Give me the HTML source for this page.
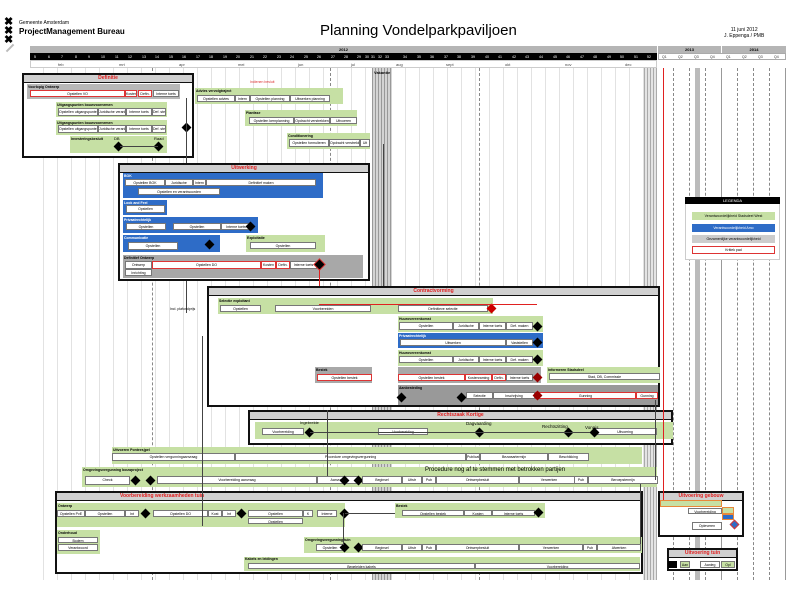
<!DOCTYPE html><html><head><meta charset="utf-8"><style>
*{margin:0;padding:0;box-sizing:border-box}
body{width:800px;height:600px;background:#fff;position:relative;overflow:hidden;font-family:"Liberation Sans",sans-serif;color:#000}
div{position:absolute}
.t{background:#fff;border:1px solid #777;font-size:3.5px;text-align:center;line-height:6px;overflow:hidden;white-space:nowrap}
.r{border:1px solid #d33}
.g{background:#c6e0a4}
.bl{background:#2e6cc7}
.gr{background:#a8a8a8}
.h{font-size:3.5px;font-weight:bold;white-space:nowrap}
.box{border:2px solid #111;background:#fff}
.bh{background:#d0d0d0;border-bottom:1px solid #111;font-size:5px;color:#e02020;text-align:center;font-weight:bold;line-height:7px;left:0;right:0;top:0;height:8px}
.d{width:7px;height:7px;background:#000;transform:rotate(45deg)}
.wk{font-size:3.5px;color:#fff;top:55px}
.mo{font-size:4px;color:#444;top:62px}
.vl{border-left:1px dashed #888;width:0}
.ln{background:#444}
</style></head><body>
<!-- logo -->
<div style="left:4px;top:18px;font-size:11px;line-height:9px;font-weight:bold">✖<br>✖<br>✖</div>
<div style="left:5px;top:47px;width:10px;height:2px;background:#bbb;transform:rotate(-45deg)"></div>
<div style="left:19px;top:20px;font-size:5px">Gemeente Amsterdam</div>
<div style="left:19px;top:27px;font-size:8px;font-weight:bold">ProjectManagement Bureau</div>
<div style="left:320px;top:22px;font-size:15px">Planning Vondelparkpaviljoen</div>
<div style="left:724px;top:27px;font-size:5px;text-align:center">11 juni 2012<br>J. Eppenga / PMB</div>
<!-- header bars -->
<div style="left:30px;top:46px;width:627px;height:7px;background:#b5b5b5;font-size:4px;text-align:center;font-weight:bold;line-height:7px">2012</div>
<div style="left:658px;top:46px;width:63px;height:7px;background:#b5b5b5;font-size:4px;text-align:center;font-weight:bold;line-height:7px">2013</div>
<div style="left:722px;top:46px;width:64px;height:7px;background:#b5b5b5;font-size:4px;text-align:center;font-weight:bold;line-height:7px">2014</div>
<div style="left:30px;top:53px;width:627px;height:7px;background:#000"></div>
<div style="left:658px;top:53px;width:128px;height:7px;background:#fff;border:1px solid #aaa"></div>
<div style="left:30px;top:60px;width:627px;height:8px;border:1px solid #ccc"></div>
<div class="wk" style="left:34px">5</div><div class="wk" style="left:48px">6</div><div class="wk" style="left:61px">7</div><div class="wk" style="left:75px">8</div><div class="wk" style="left:88px">9</div><div class="wk" style="left:101px">10</div><div class="wk" style="left:115px">11</div><div class="wk" style="left:128px">12</div><div class="wk" style="left:142px">13</div><div class="wk" style="left:155px">14</div><div class="wk" style="left:169px">15</div><div class="wk" style="left:182px">16</div><div class="wk" style="left:196px">17</div><div class="wk" style="left:209px">18</div><div class="wk" style="left:223px">19</div><div class="wk" style="left:236px">20</div><div class="wk" style="left:250px">21</div><div class="wk" style="left:263px">22</div><div class="wk" style="left:277px">23</div><div class="wk" style="left:290px">24</div><div class="wk" style="left:304px">25</div><div class="wk" style="left:317px">26</div><div class="wk" style="left:331px">27</div><div class="wk" style="left:344px">28</div><div class="wk" style="left:357px">29</div><div class="wk" style="left:365px">30</div><div class="wk" style="left:371px">31</div><div class="wk" style="left:378px">32</div><div class="wk" style="left:385px">33</div><div class="wk" style="left:403px">34</div><div class="wk" style="left:417px">35</div><div class="wk" style="left:430px">36</div><div class="wk" style="left:444px">37</div><div class="wk" style="left:457px">38</div><div class="wk" style="left:471px">39</div><div class="wk" style="left:485px">40</div><div class="wk" style="left:498px">41</div><div class="wk" style="left:512px">42</div><div class="wk" style="left:525px">43</div><div class="wk" style="left:539px">44</div><div class="wk" style="left:553px">45</div><div class="wk" style="left:566px">46</div><div class="wk" style="left:580px">47</div><div class="wk" style="left:593px">48</div><div class="wk" style="left:607px">49</div><div class="wk" style="left:620px">50</div><div class="wk" style="left:634px">51</div><div class="wk" style="left:647px">52</div>
<div class="wk" style="left:662px;color:#333">Q1</div><div class="wk" style="left:678px;color:#333">Q2</div><div class="wk" style="left:694px;color:#333">Q3</div><div class="wk" style="left:710px;color:#333">Q4</div><div class="wk" style="left:726px;color:#333">Q1</div><div class="wk" style="left:742px;color:#333">Q2</div><div class="wk" style="left:758px;color:#333">Q3</div><div class="wk" style="left:774px;color:#333">Q4</div>
<div class="mo" style="left:58px">feb</div><div class="mo" style="left:119px">mrt</div><div class="mo" style="left:179px">apr</div><div class="mo" style="left:238px">mei</div><div class="mo" style="left:298px">jun</div><div class="mo" style="left:351px">jul</div><div class="mo" style="left:396px">aug</div><div class="mo" style="left:446px">sept</div><div class="mo" style="left:505px">okt</div><div class="mo" style="left:565px">nov</div><div class="mo" style="left:625px">dec</div>
<!-- grid -->
<div style="left:30px;top:68px;width:342px;height:512px;background:repeating-linear-gradient(90deg,transparent 0 13px,#e2e2e2 13px 14px)"></div>
<div style="left:392px;top:68px;width:265px;height:512px;background:repeating-linear-gradient(90deg,transparent 0 13px,#e2e2e2 13px 14px)"></div>
<div style="left:372px;top:68px;width:20px;height:512px;background:repeating-linear-gradient(90deg,#999 0 1px,#d4d4d4 1px 3px)"></div>
<div style="left:374px;top:70px;font-size:4px;font-weight:bold">Vakantie</div>
<div style="left:644px;top:68px;width:13px;height:512px;background:repeating-linear-gradient(90deg,#aaa 0 1px,#e4e4e4 1px 3px)"></div>
<div style="left:695px;top:68px;width:5px;height:512px;background:#bbb"></div>
<div class="vl" style="left:152px;top:68px;height:512px"></div><div class="vl" style="left:330px;top:68px;height:512px"></div><div class="vl" style="left:479px;top:68px;height:512px"></div>
<div class="vl" style="left:673px;top:68px;height:512px"></div><div class="vl" style="left:689px;top:68px;height:512px"></div><div class="vl" style="left:705px;top:68px;height:512px"></div><div class="vl" style="left:721px;top:68px;height:512px;border-left:1px solid #999"></div><div class="vl" style="left:737px;top:68px;height:512px"></div><div class="vl" style="left:753px;top:68px;height:512px"></div><div class="vl" style="left:769px;top:68px;height:512px"></div><div class="vl" style="left:785px;top:68px;height:512px;border-left:1px solid #999"></div>

<!-- Definitie -->
<div class="box" style="left:22px;top:73px;width:172px;height:85px"><div class="bh">Definitie</div></div>
<div class="gr" style="left:27px;top:84px;width:153px;height:15px;background:#b8b8b8"></div>
<div class="h" style="left:28px;top:85px">Voorlopig Ontwerp</div>
<div class="t r" style="left:30px;top:90px;width:95px;height:7px">Opstellen VO</div>
<div class="t r" style="left:125px;top:90px;width:12px;height:7px">Kosten</div><div class="t r" style="left:138px;top:90px;width:14px;height:7px">Defin.</div><div class="t" style="left:153px;top:90px;width:26px;height:7px">Interne toets</div>
<div class="g" style="left:56px;top:102px;width:111px;height:15px"></div><div class="h" style="left:57px;top:103px">Uitgangspunten bouwvoornemen</div>
<div class="t" style="left:58px;top:108px;width:40px;height:8px">Opstellen uitgangspunten</div><div class="t" style="left:98px;top:108px;width:28px;height:8px">Juridische verankering</div><div class="t" style="left:126px;top:108px;width:26px;height:8px">Interne toets</div><div class="t" style="left:152px;top:108px;width:14px;height:8px">Def. stellen</div>
<div class="g" style="left:56px;top:120px;width:111px;height:15px"></div><div class="h" style="left:57px;top:121px">Uitgangspunten bouwvoornemen</div>
<div class="t" style="left:58px;top:125px;width:40px;height:8px">Opstellen uitgangspunten</div><div class="t" style="left:98px;top:125px;width:28px;height:8px">Juridische verankering</div><div class="t" style="left:126px;top:125px;width:26px;height:8px">Interne toets</div><div class="t" style="left:152px;top:125px;width:14px;height:8px">Def. stellen</div>
<div class="g" style="left:70px;top:136px;width:97px;height:17px"></div><div class="h" style="left:71px;top:137px">Investeringsbesluit</div>
<div style="left:114px;top:136px;font-size:4px">DB</div><div style="left:154px;top:136px;font-size:4px">Raad</div>
<div class="d" style="left:115px;top:143px"></div><div class="d" style="left:155px;top:143px"></div>
<div class="ln" style="left:120px;top:146px;width:38px;height:1px"></div>
<div class="d" style="left:183px;top:124px"></div>
<div class="ln" style="left:186px;top:98px;width:1px;height:215px"></div>

<!-- Advies / planfase -->
<div class="g" style="left:195px;top:88px;width:148px;height:16px"></div><div class="h" style="left:196px;top:89px">Advies vervolgtraject</div>
<div style="left:250px;top:80px;font-size:3.5px;color:#d33">Indienen besluit</div>
<div class="t" style="left:197px;top:95px;width:38px;height:7px">Opstellen advies</div><div class="t" style="left:235px;top:95px;width:15px;height:7px">Intern</div><div class="t" style="left:250px;top:95px;width:40px;height:7px">Opstellen planning</div><div class="t" style="left:290px;top:95px;width:40px;height:7px">Uitwerken planning</div>
<div class="g" style="left:245px;top:110px;width:112px;height:16px"></div><div class="h" style="left:246px;top:111px">Planfase</div>
<div class="t" style="left:249px;top:117px;width:45px;height:7px">Opstellen kernplanning</div><div class="t" style="left:294px;top:117px;width:36px;height:7px">Opdracht verstrekken</div><div class="t" style="left:330px;top:117px;width:27px;height:7px">Uitvoeren</div>
<div class="g" style="left:287px;top:133px;width:83px;height:16px"></div><div class="h" style="left:288px;top:134px">Conditionering</div>
<div class="t" style="left:289px;top:139px;width:40px;height:8px">Opstellen formulieren</div><div class="t" style="left:329px;top:139px;width:31px;height:8px">Opdracht verstrekken</div><div class="t" style="left:360px;top:139px;width:10px;height:8px">Uit</div>
<div class="ln" style="left:383px;top:144px;width:1px;height:225px"></div>

<!-- Uitwerking -->
<div class="box" style="left:118px;top:163px;width:252px;height:118px"><div class="bh">Uitwerking</div></div>
<div class="bl" style="left:123px;top:173px;width:200px;height:25px"></div><div class="h" style="left:124px;top:174px;color:#fff">BOK</div>
<div class="t" style="left:125px;top:179px;width:40px;height:7px">Opstellen BOK</div><div class="t" style="left:165px;top:179px;width:28px;height:7px">Juridische</div><div class="t" style="left:193px;top:179px;width:13px;height:7px">Intern</div><div class="t" style="left:206px;top:179px;width:110px;height:7px">Definitief maken</div>
<div class="t" style="left:138px;top:188px;width:82px;height:7px">Opstellen en verantwoorden</div>
<div class="bl" style="left:123px;top:200px;width:44px;height:15px"></div><div class="h" style="left:124px;top:201px;color:#fff">Look and Feel</div>
<div class="t" style="left:126px;top:205px;width:39px;height:8px">Opstellen</div>
<div class="bl" style="left:123px;top:217px;width:135px;height:16px"></div><div class="h" style="left:124px;top:218px;color:#fff">Privaatrechtelijk</div>
<div class="t" style="left:126px;top:223px;width:40px;height:7px">Opstellen</div><div class="t" style="left:173px;top:223px;width:48px;height:7px">Opstellen</div><div class="t" style="left:221px;top:223px;width:30px;height:7px">Interne toets</div><div class="d" style="left:247px;top:223px"></div>
<div class="bl" style="left:123px;top:235px;width:97px;height:17px"></div><div class="h" style="left:124px;top:236px;color:#fff">Communicatie</div>
<div class="t" style="left:128px;top:242px;width:50px;height:8px">Opstellen</div><div class="d" style="left:206px;top:241px"></div>
<div class="g" style="left:246px;top:235px;width:79px;height:17px"></div><div class="h" style="left:247px;top:236px">Exploitatie</div>
<div class="t" style="left:250px;top:242px;width:66px;height:7px">Opstellen</div>
<div class="gr" style="left:123px;top:255px;width:240px;height:23px"></div><div class="h" style="left:124px;top:256px">Definitief Ontwerp</div>
<div class="t" style="left:125px;top:261px;width:27px;height:8px">Ontwerp</div><div class="t" style="left:125px;top:269px;width:27px;height:7px">Inrichting</div>
<div class="t r" style="left:152px;top:261px;width:109px;height:8px">Opstellen DO</div><div class="t r" style="left:261px;top:261px;width:15px;height:8px">Kosten</div><div class="t r" style="left:276px;top:261px;width:14px;height:8px">Defin.</div><div class="t" style="left:290px;top:261px;width:27px;height:8px">Interne toets</div>
<div class="d" style="left:316px;top:261px;box-shadow:0 0 0 1px #d33"></div>
<div style="left:319px;top:269px;width:1px;height:110px;background:#e02020"></div>

<!-- Contractvorming -->
<div class="box" style="left:207px;top:286px;width:453px;height:121px"><div class="bh">Contractvorming</div></div>
<div class="g" style="left:218px;top:298px;width:275px;height:16px"></div><div class="h" style="left:219px;top:299px">Selectie exploitant</div>
<div class="t" style="left:220px;top:305px;width:41px;height:7px">Opstellen</div><div class="t" style="left:275px;top:305px;width:96px;height:7px">Voorbereiden</div><div class="t" style="left:398px;top:305px;width:90px;height:7px">Definitieve selectie</div>
<div class="d" style="left:488px;top:305px;background:#c00"></div>
<div style="left:170px;top:307px;font-size:3.5px">Incl. plafondprijs</div>
<div class="g" style="left:398px;top:316px;width:145px;height:16px"></div><div class="h" style="left:399px;top:317px">Huurovereenkomst</div>
<div class="t" style="left:399px;top:322px;width:54px;height:8px">Opstellen</div><div class="t" style="left:453px;top:322px;width:26px;height:8px">Juridische</div><div class="t" style="left:479px;top:322px;width:27px;height:8px">Interne toets</div><div class="t" style="left:506px;top:322px;width:27px;height:8px">Def. maken</div><div class="d" style="left:534px;top:323px"></div>
<div class="bl" style="left:398px;top:333px;width:145px;height:15px"></div><div class="h" style="left:399px;top:334px;color:#fff">Privaatrechtelijk</div>
<div class="t" style="left:400px;top:339px;width:106px;height:7px">Uitwerken</div><div class="t" style="left:506px;top:339px;width:27px;height:7px">Vaststellen</div><div class="d" style="left:534px;top:339px"></div>
<div class="g" style="left:398px;top:350px;width:145px;height:16px"></div><div class="h" style="left:399px;top:351px">Huurovereenkomst</div>
<div class="t" style="left:399px;top:356px;width:54px;height:7px">Opstellen</div><div class="t" style="left:453px;top:356px;width:26px;height:7px">Juridische</div><div class="t" style="left:479px;top:356px;width:27px;height:7px">Interne toets</div><div class="t" style="left:506px;top:356px;width:27px;height:7px">Def. maken</div><div class="d" style="left:534px;top:356px"></div>
<div class="gr" style="left:315px;top:367px;width:57px;height:16px"></div><div class="h" style="left:316px;top:368px">Bestek</div>
<div class="t r" style="left:317px;top:374px;width:55px;height:7px">Opstellen bestek</div>
<div class="gr" style="left:398px;top:367px;width:143px;height:16px"></div>
<div class="t r" style="left:398px;top:374px;width:67px;height:7px">Opstellen bestek</div><div class="t r" style="left:465px;top:374px;width:27px;height:7px">Kostenraming</div><div class="t r" style="left:492px;top:374px;width:14px;height:7px">Defin.</div><div class="t" style="left:506px;top:374px;width:27px;height:7px">Interne toets</div><div class="d" style="left:534px;top:374px;background:#900"></div>
<div class="g" style="left:547px;top:367px;width:113px;height:16px"></div><div class="h" style="left:548px;top:368px">Informeren Stadsdeel</div>
<div class="t" style="left:549px;top:373px;width:111px;height:7px">Stad, DB, Commissie</div>
<div class="gr" style="left:398px;top:385px;width:260px;height:20px;background:#999"></div><div class="h" style="left:399px;top:386px">Aanbesteding</div>
<div class="d" style="left:398px;top:394px"></div><div class="d" style="left:458px;top:394px"></div>
<div class="t" style="left:466px;top:392px;width:27px;height:7px">Selectie</div><div class="t" style="left:493px;top:392px;width:42px;height:7px">Inschrijving</div>
<div class="t r" style="left:535px;top:392px;width:101px;height:7px">Gunning</div><div class="t r" style="left:636px;top:392px;width:22px;height:7px">Gunning</div>
<div class="d" style="left:534px;top:392px;background:#900"></div>
<div style="left:319px;top:304px;width:218px;height:1px;background:#e02020"></div>

<!-- Rechtszaak -->
<div class="box" style="left:248px;top:410px;width:425px;height:35px"><div class="bh">Rechtszaak Kortige</div></div>
<div class="g" style="left:255px;top:422px;width:418px;height:17px"></div>
<div class="t" style="left:262px;top:428px;width:42px;height:7px">Voorbereiding</div><div class="t" style="left:378px;top:428px;width:50px;height:7px">Voorbereiding</div><div class="t" style="left:593px;top:428px;width:64px;height:7px">Uitvoering</div>
<div class="d" style="left:306px;top:429px"></div><div class="d" style="left:476px;top:429px"></div><div class="d" style="left:565px;top:429px"></div><div class="d" style="left:591px;top:429px"></div>
<div style="left:300px;top:420px;font-size:4px">Ingebrekte</div><div style="left:466px;top:421px;font-size:4.5px">Dagvaarding</div><div style="left:542px;top:424px;font-size:4.5px">Rechtszitting</div><div style="left:585px;top:425px;font-size:4.5px">Vonnis</div>
<div class="ln" style="left:310px;top:432px;width:280px;height:1px"></div>

<!-- Uitvoeren / Omgevings -->
<div class="g" style="left:112px;top:447px;width:530px;height:17px"></div><div class="h" style="left:113px;top:448px">Uitvoeren Ponteesjpel</div>
<div class="t" style="left:112px;top:453px;width:123px;height:8px">Opstellen vergunningaanvraag</div><div class="t" style="left:235px;top:453px;width:231px;height:8px">Procedure omgevingsvergunning</div><div class="t" style="left:466px;top:453px;width:14px;height:8px">Publicatie</div><div class="t" style="left:480px;top:453px;width:68px;height:8px">Bezwaartermijn</div><div class="t" style="left:548px;top:453px;width:41px;height:8px">Beschikking</div>
<div class="g" style="left:82px;top:467px;width:575px;height:20px"></div><div class="h" style="left:83px;top:468px">Omgevingsvergunning bouwproject</div>
<div style="left:425px;top:467px;font-size:6px">Procedure nog af te stemmen met betrokken partijen</div>
<div class="t" style="left:85px;top:476px;width:45px;height:9px">Check</div><div class="d" style="left:132px;top:477px"></div><div class="d" style="left:147px;top:477px"></div>
<div class="t" style="left:157px;top:476px;width:160px;height:8px">Voorbereiding aanvraag</div><div class="t" style="left:317px;top:476px;width:42px;height:8px">Aanvraag</div><div class="d" style="left:341px;top:477px"></div><div class="d" style="left:355px;top:477px"></div>
<div class="t" style="left:362px;top:476px;width:40px;height:8px">Beginsel</div><div class="t" style="left:402px;top:476px;width:20px;height:8px">Uitstr</div><div class="t" style="left:422px;top:476px;width:14px;height:8px">Pub</div><div class="t" style="left:436px;top:476px;width:83px;height:8px">Ontwerpbesluit</div><div class="t" style="left:519px;top:476px;width:60px;height:8px">Verwerken</div><div class="t" style="left:574px;top:476px;width:14px;height:8px">Pub</div><div class="t" style="left:588px;top:476px;width:70px;height:8px">Beroepstermijn</div>
<div class="ln" style="left:327px;top:410px;width:1px;height:66px"></div>

<!-- Voorbereiding -->
<div class="box" style="left:55px;top:491px;width:588px;height:83px"><div class="bh" style="text-align:left;padding-left:63px">Voorbereiding werkzaamheden tuin</div></div>
<div class="g" style="left:57px;top:503px;width:288px;height:24px"></div><div class="h" style="left:58px;top:504px">Ontwerp</div>
<div class="t" style="left:57px;top:510px;width:28px;height:7px">Opstellen PvE</div><div class="t" style="left:85px;top:510px;width:40px;height:7px">Opstellen</div><div class="t" style="left:125px;top:510px;width:14px;height:7px">Int</div><div class="d" style="left:142px;top:510px"></div>
<div class="t" style="left:153px;top:510px;width:55px;height:7px">Opstellen DO</div><div class="t" style="left:208px;top:510px;width:14px;height:7px">Kost</div><div class="t" style="left:222px;top:510px;width:14px;height:7px">Int</div><div class="d" style="left:238px;top:510px"></div>
<div class="t" style="left:248px;top:510px;width:55px;height:7px">Opstellen</div><div class="t" style="left:303px;top:510px;width:10px;height:7px">K</div><div class="t" style="left:317px;top:510px;width:20px;height:7px">Interne</div><div class="d" style="left:341px;top:510px"></div>
<div class="t" style="left:248px;top:518px;width:55px;height:6px">Opstellen</div>
<div class="g" style="left:57px;top:530px;width:43px;height:24px"></div><div class="h" style="left:58px;top:531px">Onderhoud</div>
<div class="t" style="left:58px;top:537px;width:40px;height:6px">Bodem</div><div class="t" style="left:58px;top:544px;width:40px;height:7px">Verantwoord</div>
<div class="g" style="left:395px;top:503px;width:150px;height:15px"></div><div class="h" style="left:396px;top:504px">Bestek</div>
<div class="t" style="left:402px;top:510px;width:62px;height:6px">Opstellen bestek</div><div class="t" style="left:464px;top:510px;width:28px;height:6px">Kosten</div><div class="t" style="left:492px;top:510px;width:43px;height:6px">Interne toets</div><div class="d" style="left:535px;top:509px"></div>
<div class="g" style="left:304px;top:537px;width:338px;height:16px"></div><div class="h" style="left:305px;top:538px">Omgevingsvergunning tuin</div>
<div class="t" style="left:316px;top:544px;width:28px;height:7px">Opstellen</div><div class="d" style="left:341px;top:544px"></div><div class="d" style="left:355px;top:544px"></div><div class="t" style="left:362px;top:544px;width:40px;height:7px">Beginsel</div><div class="t" style="left:402px;top:544px;width:20px;height:7px">Uitstr</div><div class="t" style="left:422px;top:544px;width:14px;height:7px">Pub</div><div class="t" style="left:436px;top:544px;width:83px;height:7px">Ontwerpbesluit</div><div class="t" style="left:519px;top:544px;width:64px;height:7px">Verwerken</div><div class="t" style="left:583px;top:544px;width:14px;height:7px">Pub</div><div class="t" style="left:597px;top:544px;width:44px;height:7px">Afwerken</div>
<div class="g" style="left:244px;top:557px;width:396px;height:14px"></div><div class="h" style="left:245px;top:557px">Kabels en leidingen</div>
<div class="t" style="left:248px;top:563px;width:227px;height:6px">Begeleiden kabels</div><div class="t" style="left:475px;top:563px;width:165px;height:6px">Voorbereiding</div>

<!-- Uitvoering gebouw / tuin -->
<div class="box" style="left:658px;top:491px;width:86px;height:46px"><div class="bh">Uitvoering gebouw</div></div>
<div style="left:660px;top:500px;width:62px;height:7px;background:#c6e0a4;border:1px solid #e8883a"></div>
<div class="t" style="left:688px;top:508px;width:34px;height:6px">Voorbereiding</div>
<div style="left:722px;top:507px;width:12px;height:7px;background:#c6e0a4;border:1px solid #e8883a"></div>
<div style="left:722px;top:514px;width:12px;height:6px;background:#2e6cc7;border:1px solid #e8883a"></div>
<div class="t" style="left:692px;top:522px;width:30px;height:8px">Opleveren</div>
<div style="left:731px;top:521px;width:7px;height:7px;transform:rotate(45deg);background:#2e6cc7;border:1px solid #d33"></div>
<div style="left:663px;top:68px;width:1px;height:432px;background:#e02020"></div>
<div class="box" style="left:667px;top:548px;width:71px;height:23px"><div class="bh">Uitvoering tuin</div></div>
<div style="left:668px;top:561px;width:9px;height:7px;background:#000"></div>
<div class="t g" style="left:680px;top:561px;width:10px;height:7px">Aan</div><div class="t" style="left:700px;top:561px;width:20px;height:7px">Aanleg</div><div class="t g" style="left:721px;top:561px;width:14px;height:7px">Opl</div>

<!-- connector lines -->
<div class="ln" style="left:655px;top:400px;width:1px;height:80px"></div>
<div class="ln" style="left:640px;top:484px;width:1px;height:60px"></div>
<div class="ln" style="left:202px;top:336px;width:1px;height:190px"></div>
<div class="ln" style="left:343px;top:513px;width:1px;height:32px"></div>
<div class="ln" style="left:345px;top:513px;width:50px;height:1px"></div>

<!-- Legend -->
<div style="left:685px;top:197px;width:95px;height:63px;background:#fff;border:1px solid #ccc"></div>
<div style="left:685px;top:197px;width:95px;height:7px;background:#000;color:#fff;font-size:4px;text-align:center;line-height:7px">LEGENDA</div>
<div style="left:692px;top:212px;width:83px;height:8px;background:#c6e0a4;font-size:3.5px;text-align:center;line-height:8px">Verantwoordelijkheid Stadsdeel West</div>
<div style="left:692px;top:224px;width:83px;height:8px;background:#2e6cc7;color:#fff;font-size:3.5px;text-align:center;line-height:8px">Verantwoordelijkheid Amo</div>
<div style="left:692px;top:235px;width:83px;height:8px;background:#ccc;font-size:3.5px;text-align:center;line-height:8px">Gezamenlijke verantwoordelijkheid</div>
<div style="left:692px;top:246px;width:83px;height:8px;border:1px solid #d33;font-size:3.5px;text-align:center;line-height:6px">Kritiek pad</div>
</body></html>
